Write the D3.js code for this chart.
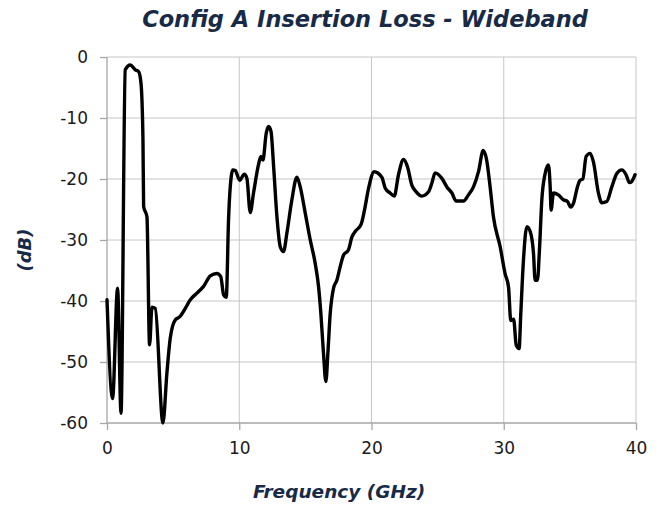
<!DOCTYPE html>
<html>
<head>
<meta charset="utf-8">
<script src="https://cdn.jsdelivr.net/npm/d3@7"></script>
<style>
  html, body { margin: 0; padding: 0; background: #fff; }
  svg { display: block; }
</style>
</head>
<body>
<svg id="chart" width="660" height="506"></svg>
<script>
const freqGHz = [0,0.42,0.8,1.06,1.38,1.76,2.14,2.39,2.57,2.72,2.77,3.02,3.22,3.4,3.65,4.23,4.53,4.78,5.16,5.49,5.92,6.3,6.8,7.3,7.81,8.31,8.6,8.82,9.02,9.19,9.32,9.52,9.7,10.03,10.38,10.58,10.83,11.08,11.46,11.64,11.79,12.04,12.22,12.4,12.6,12.85,13.1,13.35,13.6,13.98,14.36,14.61,14.99,15.37,15.74,16.0,16.17,16.37,16.55,16.7,16.88,17.13,17.38,17.63,17.88,18.26,18.52,18.77,19.22,19.47,19.78,20.2,20.78,21.04,21.41,21.72,22.04,22.42,22.72,23.05,23.38,23.81,24.31,24.56,24.81,25.32,25.7,26.08,26.4,26.96,27.33,27.71,28.09,28.45,28.7,28.97,29.22,29.73,30.1,30.36,30.53,30.75,30.94,31.16,31.29,31.49,31.75,32.0,32.25,32.37,32.55,32.7,32.88,33.13,33.38,33.51,33.58,33.76,34.13,34.51,34.82,35.07,35.27,35.57,35.77,35.98,36.23,36.53,36.78,37.16,37.41,37.79,38.17,38.55,38.93,39.25,39.5,39.68,39.93];
const lossDB = [-39.8,-56,-37.9,-58.4,-2.1,-1.3,-2.1,-2.4,-4.3,-13.6,-24.5,-26.2,-47.2,-41,-41.2,-60,-51.8,-46.1,-43.1,-42.6,-41.2,-39.8,-38.7,-37.6,-35.9,-35.5,-36,-39,-39.4,-26.7,-21.3,-18.5,-18.6,-20.2,-19.2,-19.9,-25.5,-22.3,-17.6,-16.3,-16.9,-12.5,-11.4,-12.2,-18,-26.2,-31.1,-31.9,-28.9,-23.4,-19.7,-21.3,-25.6,-30,-33.8,-37.7,-42,-48.6,-53.2,-48.6,-42,-37.9,-36.6,-34.4,-32.5,-31.6,-29.5,-28.6,-27.4,-25.1,-21.5,-18.8,-19.7,-21.5,-22.3,-22.8,-19.3,-16.8,-18,-21,-22.1,-22.8,-22.1,-20.7,-19,-19.9,-21.3,-22.3,-23.6,-23.6,-22.6,-21.3,-18.8,-15.3,-16.8,-21.3,-26.2,-31.1,-35.5,-37.7,-43.2,-43,-47.2,-47.8,-42,-33.3,-27.8,-28.6,-32.2,-36.6,-36.6,-31.6,-23.4,-19.1,-17.7,-21.3,-25.1,-22.3,-22.6,-23.4,-23.7,-24.6,-24,-21.3,-20.2,-20,-16.3,-15.8,-17.2,-22.3,-23.9,-23.7,-21.3,-19.1,-18.5,-19.3,-20.6,-20.4,-19.3];
const xTicks = [0, 10, 20, 30, 40];
const yTicks = [0, -10, -20, -30, -40, -50, -60];
const titleText = "Config A Insertion Loss - Wideband";
const xTitle = "Frequency (GHz)";
const yTitle = "(dB)";

(function () {
const svg = d3.select("#chart");
const pLeft = 107, pRight = 636, pTop = 57, pBottom = 423;
const x = d3.scaleLinear().domain([0, 40]).range([pLeft, pRight]);
const y = d3.scaleLinear().domain([-60, 0]).range([pBottom, pTop]);
const font = "'DejaVu Sans', sans-serif";
const navy = "#172a47";

// gridlines
svg.append("g").selectAll("line").data(yTicks.filter(d => d !== -60)).join("line")
  .attr("x1", pLeft).attr("x2", pRight).attr("y1", d => y(d)).attr("y2", d => y(d))
  .attr("stroke", "#c6c6c6").attr("stroke-width", 1);
svg.append("g").selectAll("line").data(xTicks.filter(d => d !== 0)).join("line")
  .attr("x1", d => x(d)).attr("x2", d => x(d)).attr("y1", pTop).attr("y2", pBottom)
  .attr("stroke", "#c6c6c6").attr("stroke-width", 1);

// axes
const xAxis = d3.axisBottom(x).tickValues(xTicks).tickSize(7).tickPadding(12).tickFormat(d3.format("d"));
const yAxis = d3.axisLeft(y).tickValues(yTicks).tickSize(7).tickPadding(12).tickFormat(d => d === 0 ? "0" : "-" + Math.abs(d));
const gx = svg.append("g").attr("transform", `translate(0,${pBottom})`).call(xAxis);
const gy = svg.append("g").attr("transform", `translate(${pLeft},0)`).call(yAxis);
[gx, gy].forEach(g => {
  g.select(".domain").attr("stroke", "#a6a6a6").attr("stroke-width", 1.3);
  g.selectAll(".tick line").attr("stroke", "#a6a6a6").attr("stroke-width", 1.3);
  g.selectAll(".tick text").attr("font-family", font).attr("font-size", 17).attr("fill", "#1a1a1a");
});
gx.select(".domain").attr("d", `M${pLeft},0H${pRight}`);
gy.select(".domain").attr("d", `M0,${pTop}V${pBottom}`);

// line
const line = d3.line().x(d => x(d[0])).y(d => y(d[1])).curve(d3.curveMonotoneX);
const pts = freqGHz.map((f, i) => [f, lossDB[i]]);
svg.append("path").datum(pts).attr("d", line)
  .attr("fill", "none").attr("stroke", "#000").attr("stroke-width", 3.4)
  .attr("stroke-linejoin", "round").attr("stroke-linecap", "round");

// titles
svg.append("text").attr("x", 365).attr("y", 27).attr("text-anchor", "middle")
  .attr("font-family", font).attr("font-size", 22.5).attr("font-weight", "bold").attr("font-style", "italic")
  .attr("fill", navy).text(titleText);
svg.append("text").attr("x", 339).attr("y", 498).attr("text-anchor", "middle")
  .attr("font-family", font).attr("font-size", 18.5).attr("font-weight", "bold").attr("font-style", "italic")
  .attr("fill", navy).text(xTitle);
svg.append("text").attr("transform", "translate(31,250) rotate(-90)").attr("text-anchor", "middle")
  .attr("font-family", font).attr("font-size", 18).attr("font-weight", "bold").attr("font-style", "italic")
  .attr("fill", navy).text(yTitle);
})();
</script>
</body>
</html>
